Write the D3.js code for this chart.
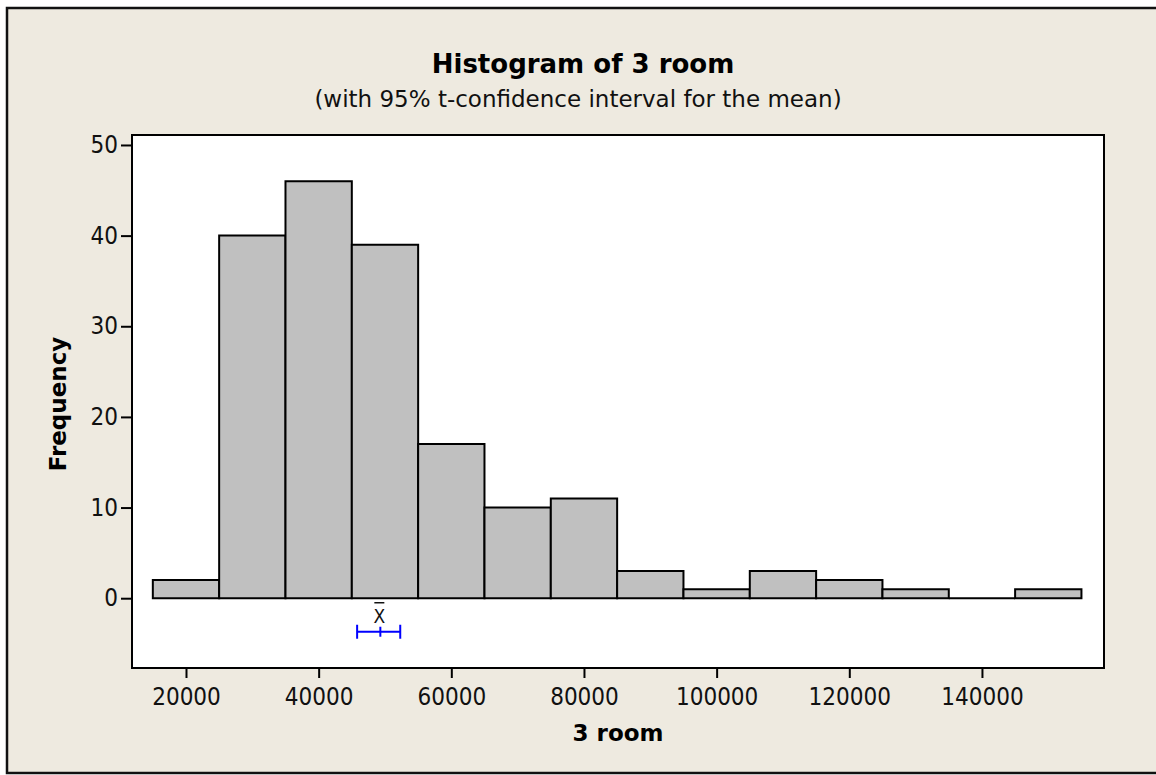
<!DOCTYPE html>
<html>
<head>
<meta charset="utf-8">
<script src="https://cdn.jsdelivr.net/npm/d3@7"></script>
<style>
  html, body { margin: 0; padding: 0; background: #fff; }
  svg { display: block; font-family: "DejaVu Sans", sans-serif; }
</style>
</head>
<body>
<div id="chart"></div>
<script>
/* Minitab-style histogram with a 95% t-interval for the mean under the bars. */

var binStarts = [15000, 25000, 35000, 45000, 55000, 65000, 75000, 85000, 95000, 105000, 115000, 125000, 135000, 145000];
var binWidth = 10000;
var frequencies = [2, 40, 46, 39, 17, 10, 11, 3, 1, 3, 2, 1, 0, 1];
var xTicks = [20000, 40000, 60000, 80000, 100000, 120000, 140000];
var yTicks = [0, 10, 20, 30, 40, 50];
var ciMean = 49300;
var ciLow = 45800;
var ciHigh = 52300;

var width = 1156, height = 775;
var plot = { left: 132, top: 135, right: 1104, bottom: 668 };
var innerW = plot.right - plot.left;
var innerH = plot.bottom - plot.top;

var svg = d3.select("#chart").append("svg")
  .attr("width", width).attr("height", height);

/* outer frame */
svg.append("rect").attr("x", 0).attr("y", 0).attr("width", width).attr("height", height).attr("fill", "#fff");
svg.append("rect").attr("x", 7).attr("y", 8).attr("width", width + 10).attr("height", 765)
  .attr("fill", "#EEEAE0").attr("stroke", "#111").attr("stroke-width", 2.5);

var g = svg.append("g").attr("transform", "translate(" + plot.left + "," + plot.top + ")");

var x = d3.scaleLinear().domain([11860, 158400]).range([0, innerW]);
var y = d3.scaleLinear().domain([-7.7, 51.1]).range([innerH, 0]);

g.append("rect").attr("width", innerW).attr("height", innerH).attr("fill", "#fff");

/* bars (as paths so an empty bin still shows its base line) */
g.selectAll("path.bar").data(binStarts).enter().append("path")
  .attr("class", "bar")
  .attr("d", function (d, i) {
    var x0 = x(d), x1 = x(d + binWidth), y0 = y(0), y1 = y(frequencies[i]);
    return "M" + x0 + "," + y0 + "V" + y1 + "H" + x1 + "V" + y0 + "Z";
  })
  .attr("fill", "#C0C0C0").attr("stroke", "#000").attr("stroke-width", 2)
  .attr("stroke-linejoin", "miter");

/* plot border */
g.append("rect").attr("width", innerW).attr("height", innerH)
  .attr("fill", "none").attr("stroke", "#000").attr("stroke-width", 2);

/* axes */
var xAxis = g.append("g").attr("transform", "translate(0," + innerH + ")")
  .call(d3.axisBottom(x).tickValues(xTicks).tickSize(10).tickPadding(10).tickFormat(d3.format("d")));
var yAxis = g.append("g")
  .call(d3.axisLeft(y).tickValues(yTicks).tickSize(11).tickPadding(3));
[xAxis, yAxis].forEach(function (a) {
  a.select(".domain").remove();
  a.selectAll(".tick line").attr("stroke", "#000").attr("stroke-width", 2);
  a.selectAll(".tick text").attr("fill", "#111").style("font-size", "24px")
    .style("font-family", "'DejaVu Sans Condensed', sans-serif");
});

/* confidence interval */
var ciY = y(-3.7);
var blue = "#0000FF";
g.append("line").attr("x1", x(ciLow)).attr("x2", x(ciHigh)).attr("y1", ciY).attr("y2", ciY)
  .attr("stroke", blue).attr("stroke-width", 2);
[ciLow, ciHigh].forEach(function (v) {
  g.append("line").attr("x1", x(v)).attr("x2", x(v)).attr("y1", ciY - 7).attr("y2", ciY + 7)
    .attr("stroke", blue).attr("stroke-width", 2);
});
g.append("line").attr("x1", x(ciMean)).attr("x2", x(ciMean)).attr("y1", ciY - 5).attr("y2", ciY + 5)
  .attr("stroke", blue).attr("stroke-width", 2);
g.append("text").attr("x", x(ciMean) - 1).attr("y", ciY - 9)
  .attr("text-anchor", "middle").style("font-size", "19px").attr("fill", "#111")
  .style("font-family", "'DejaVu Sans Condensed', sans-serif")
  .text("X");
g.append("line").attr("x1", x(ciMean) - 6).attr("x2", x(ciMean) + 4)
  .attr("y1", ciY - 29).attr("y2", ciY - 29).attr("stroke", "#111").attr("stroke-width", 1.5);

/* titles */
svg.append("text").attr("x", 583).attr("y", 73).attr("text-anchor", "middle")
  .style("font-size", "26px").style("font-weight", "bold").attr("fill", "#000")
  .text("Histogram of 3 room");
svg.append("text").attr("x", 578).attr("y", 107).attr("text-anchor", "middle")
  .style("font-size", "23px").attr("fill", "#111")
  .text("(with 95% t-confidence interval for the mean)");
svg.append("text").attr("x", 618).attr("y", 741).attr("text-anchor", "middle")
  .style("font-size", "23px").style("font-weight", "bold").attr("fill", "#000")
  .text("3 room");
svg.append("text").attr("transform", "translate(66,404) rotate(-90)").attr("text-anchor", "middle")
  .style("font-size", "23px").style("font-weight", "bold").attr("fill", "#000")
  .text("Frequency");
</script>
</body>
</html>
